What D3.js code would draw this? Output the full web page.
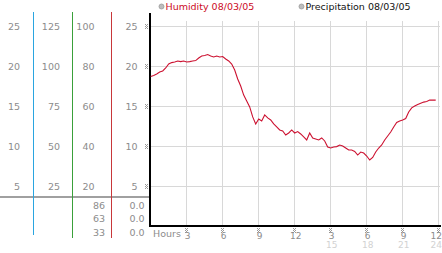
<!DOCTYPE html>
<html>
<head>
<meta charset="utf-8">
<script src="https://cdn.jsdelivr.net/npm/d3@7"></script>
<style>
html, body { margin: 0; padding: 0; background: #fff; }
svg { display: block; font-family: "DejaVu Sans", Verdana, sans-serif; }
</style>
</head>
<body>
<div id="chart"></div>
<script>
// hour grid (0..24) and its labels
const hourTicks = [3, 6, 9, 12, 15, 18, 21, 24]
const hourLabels = ['3', '6', '9', '12', '3', '6', '9', '12']
const hourSubLabels = ['', '', '', '', '15', '18', '21', '24']

// left scale columns, top to bottom
const colA = [25, 20, 15, 10, 5]
const colB = [125, 100, 75, 50, 25]
const colC = [100, 80, 60, 40, 20]
const colD = [25, 20, 15, 10, 5]
const lowC = ['86', '63', '33']
const lowD = ['0.0', '0.0', '0.0']

const legend = ['Humidity 08/03/05', 'Precipitation 08/03/05']

// humidity %, one reading every 15 minutes from 00:00
const humidity = [
  75.1, 75.6, 76.3, 77.3, 77.8, 79.3, 81.3, 82.0, 82.3, 82.8, 82.5, 82.8,
  82.3, 82.5, 82.8, 83.0, 84.3, 85.3, 85.5, 86.0, 85.3, 84.8, 85.3, 84.8,
  85.0, 83.8, 82.8, 81.3, 78.3, 73.8, 70.3, 65.8, 62.8, 59.9, 54.9, 51.4,
  53.9, 52.9, 55.9, 54.4, 53.4, 51.4, 49.9, 48.4, 47.9, 45.9, 46.9, 48.4,
  46.9, 47.6, 46.4, 44.9, 43.4, 46.9, 44.4, 43.9, 43.4, 44.4, 42.9, 39.9,
  39.4, 39.9, 40.1, 40.9, 40.4, 39.4, 38.4, 38.4, 37.7, 35.9, 37.4, 36.9,
  35.4, 33.4, 34.7, 37.4, 39.4, 40.9, 43.4, 45.4, 47.4, 49.9, 52.1, 52.9,
  53.4, 54.1, 57.4, 59.4, 60.3, 61.1, 61.7, 62.3, 62.6, 63.3, 63.3, 63.3
]

const width = 442
const height = 253

const x = d3.scaleLinear().domain([0, 24]).range([150.7, 438.7])
const y = d3.scaleLinear().domain([0, 100]).range([227, 26.5])
const px = (v) => Math.floor(v) + 0.5

const svg = d3.select('#chart').append('svg')
  .attr('width', width)
  .attr('height', height)
  .attr('viewBox', `0,0,${width},${height}`)

// grid
const grid = svg.append('g')
  .attr('stroke', '#d8d8d8')
  .attr('shape-rendering', 'crispEdges')

grid.selectAll('.h')
  .data(colC)
  .join('line')
  .attr('x1', 150)
  .attr('x2', px(x(24)) + 1)
  .attr('y1', (d) => px(y(d)))
  .attr('y2', (d) => px(y(d)))

grid.selectAll('.v')
  .data(hourTicks)
  .join('line')
  .attr('x1', (d) => px(x(d)))
  .attr('x2', (d) => px(x(d)))
  .attr('y1', 21)
  .attr('y2', 225)

// separator under the scale columns
svg.append('line')
  .attr('x1', 0).attr('x2', 149)
  .attr('y1', 197).attr('y2', 197)
  .attr('stroke', '#a0a0a0')
  .attr('stroke-width', 2)
  .attr('shape-rendering', 'crispEdges')

// coloured scale dividers
const dividers = [
  { x: 33.5, c: '#2aa5e0', y2: 235 },
  { x: 72.5, c: '#3aa03a', y2: 238 },
  { x: 111.5, c: '#c8373a', y2: 238 }
]
svg.selectAll('.div')
  .data(dividers)
  .join('line')
  .attr('x1', (d) => d.x).attr('x2', (d) => d.x)
  .attr('y1', 12).attr('y2', (d) => d.y2)
  .attr('stroke', (d) => d.c)
  .attr('shape-rendering', 'crispEdges')

// column labels
const labelCols = [
  { vals: colA, x: 20 },
  { vals: colB, x: 60 },
  { vals: colC, x: 94.5 },
  { vals: colD, x: 137.5 }
]
labelCols.forEach((col) => {
  svg.append('g')
    .attr('fill', '#8c8c8c')
    .attr('font-size', 9.5)
    .attr('text-anchor', 'end')
    .selectAll('text')
    .data(col.vals)
    .join('text')
    .attr('x', col.x)
    .attr('y', (d, i) => y(colC[i]) + 3.5)
    .text((d) => d)
})

const lowRows = [208.5, 222, 235.5]
svg.append('g')
  .attr('fill', '#8c8c8c')
  .attr('font-size', 9.5)
  .attr('text-anchor', 'end')
  .selectAll('text')
  .data(lowC)
  .join('text')
  .attr('x', 105)
  .attr('y', (d, i) => lowRows[i])
  .text((d) => d)

svg.append('g')
  .attr('fill', '#8c8c8c')
  .attr('font-size', 9.5)
  .attr('text-anchor', 'end')
  .selectAll('text')
  .data(lowD)
  .join('text')
  .attr('x', 144.5)
  .attr('y', (d, i) => lowRows[i])
  .text((d) => d)

// small dotted tick marks
const dots = [[0, 0], [2, 0], [1, 1], [0, 2], [2, 2], [1, 3], [0, 4], [2, 4]]
const mark = (g, cx, cy) => {
  g.append('g')
    .attr('transform', `translate(${cx - 1.5},${cy - 2.5})`)
    .selectAll('rect')
    .data(dots)
    .join('rect')
    .attr('x', (d) => d[0]).attr('y', (d) => d[1])
    .attr('width', 1).attr('height', 1)
    .attr('fill', '#9a9a9a')
}
const marks = svg.append('g').attr('shape-rendering', 'crispEdges')
colC.forEach((v) => mark(marks, 146, Math.floor(y(v)) + 0.5))
hourTicks.forEach((h) => mark(marks, Math.min(Math.floor(x(h)) + 0.5, 438.5), 230))

// axes
svg.append('line')
  .attr('x1', 150).attr('x2', 150)
  .attr('y1', 13).attr('y2', 227)
  .attr('stroke', '#000').attr('stroke-width', 2)
  .attr('shape-rendering', 'crispEdges')
svg.append('line')
  .attr('x1', 149).attr('x2', 441)
  .attr('y1', 226).attr('y2', 226)
  .attr('stroke', '#000').attr('stroke-width', 2)
  .attr('shape-rendering', 'crispEdges')

// hour labels
svg.append('text')
  .attr('x', 153).attr('y', 236.5)
  .attr('fill', '#8c8c8c')
  .attr('font-size', 9.5)
  .text('Hours')

const last = hourTicks.length - 1
const hourX = (d, i) => (i === last ? 442 : x(d) + 1)
const hourAnchor = (d, i) => (i === last ? 'end' : 'middle')

svg.append('g')
  .attr('fill', '#8c8c8c')
  .attr('font-size', 9)
  .selectAll('text')
  .data(hourTicks)
  .join('text')
  .attr('x', hourX)
  .attr('text-anchor', hourAnchor)
  .attr('y', 238.5)
  .text((d, i) => hourLabels[i])

svg.append('g')
  .attr('fill', '#d2d2d2')
  .attr('font-size', 9)
  .selectAll('text')
  .data(hourTicks)
  .join('text')
  .attr('x', hourX)
  .attr('text-anchor', hourAnchor)
  .attr('y', 248)
  .text((d, i) => hourSubLabels[i])

// humidity line
const line = d3.line()
  .x((d, i) => x(i * 0.25))
  .y((d) => y(d))

svg.append('path')
  .datum(humidity)
  .attr('fill', 'none')
  .attr('stroke', '#cc1130')
  .attr('stroke-width', 1.1)
  .attr('d', line)

// legend
const legendX = [161.5, 301.5]
const legendColor = ['#cc0a1e', '#111']
const lg = svg.append('g')
lg.selectAll('circle')
  .data(legend)
  .join('circle')
  .attr('cx', (d, i) => legendX[i])
  .attr('cy', 6.5)
  .attr('r', 2.5)
  .attr('fill', '#bdbdbd')
  .attr('stroke', '#9a9a9a')
  .attr('stroke-width', 0.8)
lg.selectAll('text')
  .data(legend)
  .join('text')
  .attr('x', (d, i) => legendX[i] + 4)
  .attr('y', 10)
  .attr('font-size', 9.5)
  .attr('fill', (d, i) => legendColor[i])
  .text((d) => d)
</script>
</body>
</html>
